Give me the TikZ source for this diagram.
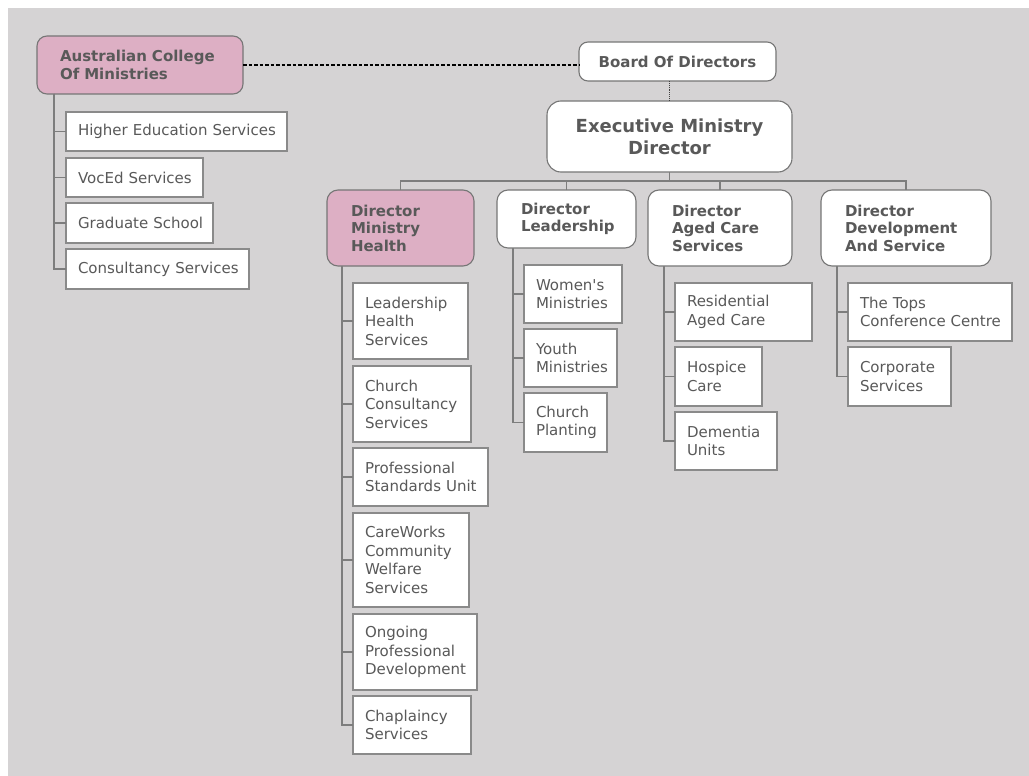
\documentclass[tikz,border=0pt]{standalone}
\usepackage{fontspec}
\setmainfont{DejaVu Sans}
\hyphenpenalty=10000
\exhyphenpenalty=10000
\definecolor{bggray}{RGB}{213,211,212}
\definecolor{pinkfill}{RGB}{221,175,196}
\definecolor{boxline}{RGB}{118,118,118}
\definecolor{kidline}{RGB}{138,138,138}
\definecolor{linkc}{RGB}{125,125,125}
\definecolor{txt}{RGB}{89,89,89}
% child box: name, x, y (top left), width, height, text
\newcommand{\kid}[6]{%
  \pgfmathsetmacro{\kidtw}{#4-24}%
  \node[kidbox, minimum width=#4pt, minimum height=#5pt, text width=\kidtw pt,
        anchor=north west] (#1) at (#2,#3) {#6};}
% director box: name, x, y (top left), width, height, fill, text
\newcommand{\head}[7]{%
  \pgfmathsetmacro{\headtw}{#4-48}%
  \node[headbox, fill=#6, minimum width=#4pt, minimum height=#5pt, text width=\headtw pt,
        anchor=north west] (#1) at (#2,#3) {#7};}
\begin{document}
\begin{tikzpicture}[x=1pt,y=-1pt,
  every node/.style={outer sep=0pt},
  base/.style={draw=boxline, line width=1.1pt, text=txt, inner ysep=2pt},
  kidbox/.style={base, draw=kidline, line width=1.3pt, fill=white, rectangle, align=left,
    inner xsep=12pt, font=\fontsize{15}{18.5}\selectfont},
  headbox/.style={base, rounded corners=11pt, align=left, inner xsep=24pt,
    font=\fontsize{15}{17.5}\selectfont\bfseries},
  topbox/.style={base, fill=white, rounded corners=9pt, align=center},
  link/.style={draw=linkc, line width=1.4pt},
  assoc/.style={draw=black, line width=1.1pt, dash pattern=on 3.5pt off 2pt},
  chain/.style={draw=black!75, line width=0.9pt, densely dotted},
]
% page and backdrop
\fill[white] (0,0) rectangle (1029,776);
\fill[bggray] (8,8) rectangle (1029,776);
\useasboundingbox (0,0) rectangle (1029,776);

% top level
\node[topbox, rounded corners=10pt, fill=pinkfill, align=left, inner xsep=23pt,
      minimum width=206pt, minimum height=58pt, text width=160pt, anchor=north west,
      font=\fontsize{15}{17.5}\selectfont\bfseries] (acm) at (37,36)
      {Australian~College\\Of~Ministries};
\node[topbox, minimum width=197pt, minimum height=39pt, anchor=north west,
      font=\fontsize{15}{17.5}\selectfont\bfseries] (board) at (579,42) {Board Of Directors};
\node[topbox, rounded corners=14pt, minimum width=245pt, minimum height=71pt, anchor=north west,
      font=\fontsize{18}{22}\selectfont\bfseries] (exec) at (547,101)
      {Executive Ministry\\Director};

% directors
\head{health}{327}{190}{147}{76}{pinkfill}{Director\\Ministry\\Health}
\head{lead}{497}{190}{139}{58}{white}{Director\\Leadership}
\head{aged}{648}{190}{144}{76}{white}{Director\\Aged~Care\\Services}
\head{dev}{821}{190}{170}{76}{white}{Director\\Development\\And~Service}

% college services
\kid{hes}{66}{112}{221}{39}{Higher~Education~Services}
\kid{voc}{66}{158}{137}{39}{VocEd~Services}
\kid{grad}{66}{203}{147}{40}{Graduate~School}
\kid{cons}{66}{249}{183}{40}{Consultancy~Services}

% ministry health
\kid{lhs}{353}{283}{115}{76}{Leadership\\Health\\Services}
\kid{ccs}{353}{366}{118}{76}{Church\\Consultancy\\Services}
\kid{psu}{353}{448}{135}{58}{Professional\\Standards~Unit}
\kid{cw}{353}{513}{116}{94}{CareWorks\\Community\\Welfare\\Services}
\kid{opd}{353}{614}{124}{76}{Ongoing\\Professional\\Development}
\kid{chap}{353}{696}{118}{58}{Chaplaincy\\Services}

% leadership
\kid{wom}{524}{265}{98}{58}{Women\textquotesingle s\\Ministries}
\kid{youth}{524}{329}{93}{58}{Youth\\Ministries}
\kid{plant}{524}{393}{83}{59}{Church\\Planting}

% aged care
\kid{res}{675}{283}{137}{58}{Residential\\Aged~Care}
\kid{hosp}{675}{347}{87}{59}{Hospice\\Care}
\kid{dem}{675}{412}{102}{58}{Dementia\\Units}

% development and service
\kid{tops}{848}{283}{164}{58}{The~Tops\\Conference~Centre}
\kid{corp}{848}{347}{103}{59}{Corporate\\Services}

% connectors between the top boxes
\draw[assoc] (acm.east) -- (acm.east -| board.west);
\draw[chain] (exec.north |- board.south) -- (exec.north);

% executive to directors
\coordinate (bar) at (669.5,181);
\draw[link] (exec.south) -- (bar);
\draw[link] (health.north) |- (bar) -| (dev.north);
\draw[link] (lead.north) -- (lead.north |- bar);
\draw[link] (aged.north) -- (aged.north |- bar);

% spines to the service boxes
\foreach \c in {hes,voc,grad,cons}
  \draw[link] ([xshift=17pt]acm.south west) |- (\c.west);
\foreach \c in {lhs,ccs,psu,cw,opd,chap}
  \draw[link] ([xshift=15pt]health.south west) |- (\c.west);
\foreach \c in {wom,youth,plant}
  \draw[link] ([xshift=16pt]lead.south west) |- (\c.west);
\foreach \c in {res,hosp,dem}
  \draw[link] ([xshift=16pt]aged.south west) |- (\c.west);
\foreach \c in {tops,corp}
  \draw[link] ([xshift=16pt]dev.south west) |- (\c.west);
\end{tikzpicture}
\end{document}
